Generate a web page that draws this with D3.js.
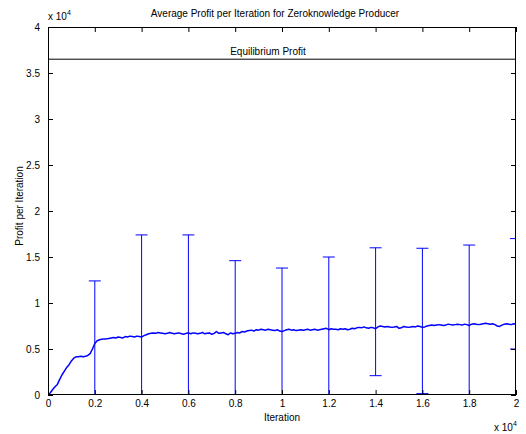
<!DOCTYPE html>
<html>
<head>
<meta charset="utf-8">
<script src="https://cdn.jsdelivr.net/npm/d3@7"></script>
<style>
  html, body { margin: 0; padding: 0; background: #fff; }
  svg { display: block; }
  text { font-family: "Liberation Sans", Arial, Helvetica, sans-serif; fill: #000; }
</style>
</head>
<body>
<script>
// Average profit, sampled every 100 iterations from 0 to 20000
const iterStep = 100;
const avgProfit = [
  0, 250, 600, 900, 1150, 1700, 2200, 2600, 3000, 3300, 3700, 4000, 4150, 4150, 4200, 4150, 4200, 4300, 4500, 5000, 5600,
  5900, 6000, 6050, 6100, 6100, 6150, 6200, 6250, 6200, 6300, 6250, 6200, 6350, 6300, 6400, 6350, 6300, 6400, 6350, 6300,
  6450, 6550, 6650, 6700, 6750, 6700, 6800, 6750, 6700, 6650, 6700, 6800, 6700, 6650, 6700, 6750, 6650, 6600, 6700, 6750,
  6650, 6750, 6700, 6650, 6700, 6800, 6650, 6700, 6750, 6600, 6700, 6900, 6700, 6750, 6800, 6650, 6550, 6750, 6650, 6700,
  6800, 6750, 6900, 6850, 6950, 7000, 7050, 6950, 7100, 7050, 7150, 7100, 7050, 7150, 7100, 7050, 7000, 7100, 6950, 6900,
  7000, 7100, 7150, 7050, 7100, 7000, 7050, 7100, 7050, 7100, 7150, 7050, 7100, 7150, 7050, 7100, 7150, 7200, 7250, 7100,
  7200, 7150, 7150, 7100, 7200, 7150, 7200, 7100, 7150, 7250, 7200, 7300, 7350, 7300, 7400, 7300, 7250, 7350, 7300, 7200,
  7400, 7500, 7450, 7400, 7450, 7400, 7350, 7400, 7450, 7250, 7300, 7450, 7400, 7350, 7400, 7450, 7400, 7500, 7450, 7350,
  7400, 7500, 7550, 7600, 7550, 7600, 7650, 7600, 7550, 7600, 7700, 7650, 7600, 7650, 7700, 7650, 7600, 7700, 7650, 7550,
  7700, 7750, 7700, 7650, 7700, 7750, 7800, 7750, 7700, 7750, 7650, 7500, 7450, 7600, 7700, 7750, 7700, 7650, 7750, 7700
];

// Error bars: iteration, lower end, upper end
const barIters = [2000, 4000, 6000, 8000, 10000, 12000, 14000, 16000, 18000, 20000];
const barLow   = [-1000, -4800, -4000, -1300, -400, -1000, 2100, 150, -1000, 5000];
const barHigh  = [12400, 17400, 17400, 14600, 13800, 15000, 16000, 15950, 16300, 17000];

const equilibriumProfit = 36500;

const xTicks = [0, 2000, 4000, 6000, 8000, 10000, 12000, 14000, 16000, 18000, 20000];
const xTickLabels = ["0", "0.2", "0.4", "0.6", "0.8", "1", "1.2", "1.4", "1.6", "1.8", "2"];
const yTicks = [0, 5000, 10000, 15000, 20000, 25000, 30000, 35000, 40000];
const yTickLabels = ["0", "0.5", "1", "1.5", "2", "2.5", "3", "3.5", "4"];

const W = 526, H = 434;
const padL = 48, padR = 516, padT = 27, padB = 395;

const svg = d3.select("body").append("svg").attr("width", W).attr("height", H);

const x = d3.scaleLinear().domain([0, 20000]).range([padL, padR]);
const y = d3.scaleLinear().domain([0, 40000]).range([padB, padT]);

svg.append("defs").append("clipPath").attr("id", "plotClip")
  .append("rect").attr("x", padL).attr("y", padT).attr("width", padR - padL).attr("height", padB - padT);

const plot = svg.append("g").attr("clip-path", "url(#plotClip)");

// Equilibrium line
plot.append("line")
  .attr("x1", x(0)).attr("x2", x(20000))
  .attr("y1", y(equilibriumProfit)).attr("y2", y(equilibriumProfit))
  .attr("stroke", "#000").attr("stroke-width", 1);

svg.append("text")
  .attr("x", x(9400)).attr("y", y(equilibriumProfit) - 4)
  .attr("text-anchor", "middle").attr("font-size", 10)
  .text("Equilibrium Profit");

// Error bars
const capHalf = 6;
const bars = plot.selectAll("g.ebar").data(barIters).join("g").attr("class", "ebar")
  .attr("stroke", "#0000ff").attr("stroke-width", 1).attr("fill", "none");
bars.append("line")
  .attr("x1", d => x(d)).attr("x2", d => x(d))
  .attr("y1", (d, i) => y(barLow[i])).attr("y2", (d, i) => y(barHigh[i]));
bars.append("line")
  .attr("x1", d => x(d) - capHalf).attr("x2", d => x(d) + capHalf)
  .attr("y1", (d, i) => y(barHigh[i])).attr("y2", (d, i) => y(barHigh[i]));
bars.append("line")
  .attr("x1", d => x(d) - capHalf).attr("x2", d => x(d) + capHalf)
  .attr("y1", (d, i) => y(barLow[i])).attr("y2", (d, i) => y(barLow[i]));

// Average profit line
const line = d3.line().x((d, i) => x(i * iterStep)).y(d => y(d));
plot.append("path").datum(avgProfit)
  .attr("d", line)
  .attr("fill", "none").attr("stroke", "#0000ff").attr("stroke-width", 1.5)
  .attr("stroke-linejoin", "round");

// Axes with inward ticks on all four sides
const tickLen = 5;
const xAxisB = d3.axisBottom(x).tickValues(xTicks).tickSize(-tickLen).tickPadding(5)
  .tickFormat((d, i) => xTickLabels[i]);
const xAxisT = d3.axisTop(x).tickValues(xTicks).tickSize(-tickLen).tickFormat("");
const yAxisL = d3.axisLeft(y).tickValues(yTicks).tickSize(-tickLen).tickPadding(8)
  .tickFormat((d, i) => yTickLabels[i]);
const yAxisR = d3.axisRight(y).tickValues(yTicks).tickSize(-tickLen).tickFormat("");

function styleAxis(g) {
  g.select(".domain").remove();
  g.selectAll(".tick line").attr("stroke", "#000");
  g.selectAll(".tick text").attr("font-size", 10)
    .attr("font-family", "'Liberation Sans', Arial, sans-serif").attr("fill", "#000");
}
svg.append("g").attr("transform", `translate(0,${padB})`).call(xAxisB).call(styleAxis);
svg.append("g").attr("transform", `translate(0,${padT})`).call(xAxisT).call(styleAxis);
svg.append("g").attr("transform", `translate(${padL},0)`).call(yAxisL).call(styleAxis);
svg.append("g").attr("transform", `translate(${padR},0)`).call(yAxisR).call(styleAxis);

// Box
svg.append("rect").attr("x", padL + 0.5).attr("y", padT + 0.5)
  .attr("width", padR - padL - 1).attr("height", padB - padT - 1)
  .attr("fill", "none").attr("stroke", "#000").attr("stroke-width", 1);

// Title and axis labels
svg.append("text").attr("x", 275).attr("y", 17).attr("text-anchor", "middle")
  .attr("font-size", 10).text("Average Profit per Iteration for Zeroknowledge Producer");
svg.append("text").attr("x", 282).attr("y", 421).attr("text-anchor", "middle")
  .attr("font-size", 10).text("Iteration");
svg.append("text").attr("transform", "translate(23,206) rotate(-90)").attr("text-anchor", "middle")
  .attr("font-size", 10).text("Profit per Iteration");

// Exponent labels
function exponent(xPos, yPos) {
  const t = svg.append("text").attr("x", xPos).attr("y", yPos).attr("font-size", 10);
  t.append("tspan").text("x 10");
  t.append("tspan").attr("dy", -5).attr("font-size", 7).text("4");
}
exponent(48, 20);
exponent(494, 431);
</script>
</body>
</html>
